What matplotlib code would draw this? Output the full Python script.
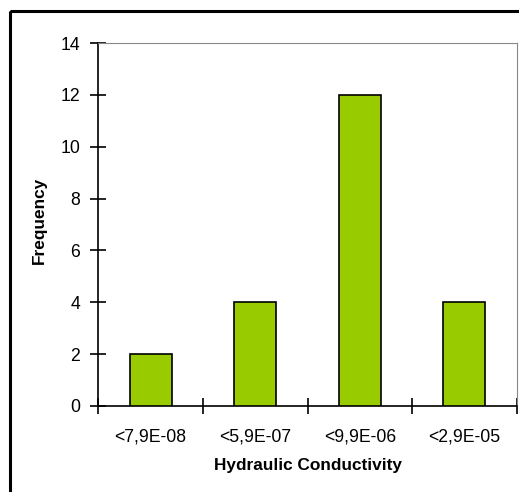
import matplotlib.pyplot as plt
from matplotlib.patches import Rectangle

categories = ['<7,9E-08', '<5,9E-07', '<9,9E-06', '<2,9E-05']
frequency = [2, 4, 12, 4]

plt.rcParams['font.family'] = ['Liberation Sans', 'DejaVu Sans']

W, H = 519, 492
fig = plt.figure(figsize=(W / 100, H / 100), dpi=100)

# outer chart frame (runs off the right and bottom edges)
fig.patches.append(Rectangle((9.5 / W, 1 - 10.5 / H), 2, -2, transform=fig.transFigure,
                             fill=False, edgecolor='black', linewidth=2.2, zorder=0))

left, right, top, bottom = 98.3, 516.7, 43, 406
ax = fig.add_axes([left / W, 1 - bottom / H, (right - left) / W, (bottom - top) / H])

x = range(len(categories))
ax.bar(x, frequency, width=0.4, color='#99CC00', edgecolor='black', linewidth=1.2, zorder=3)

ax.set_xlim(-0.5, len(categories) - 0.5)
ax.set_ylim(0, 14)
ax.set_yticks(range(0, 15, 2))
ax.set_xticks(x)
ax.set_xticklabels(categories, fontsize=12.7)
ax.tick_params(axis='x', which='major', length=0, pad=16)
ax.set_xticks([-0.5, 0.5, 1.5, 2.5, 3.5], minor=True)
ax.tick_params(axis='x', which='minor', direction='inout', length=12, width=1.2, color='black')
ax.tick_params(axis='y', direction='inout', length=11, width=1.2, labelsize=12.7, pad=7.5)

ax.spines['left'].set_linewidth(1.2)
ax.spines['bottom'].set_linewidth(1.2)
ax.spines['top'].set_color('#888888')
ax.spines['right'].set_color('#888888')

ax.set_xlabel('Hydraulic Conductivity', fontsize=12.4, fontweight='bold', labelpad=9)
ax.set_ylabel('Frequency', fontsize=12.4, fontweight='bold')
ax.yaxis.set_label_coords(-0.123, 0.51)

fig.savefig('out.png', dpi=100)
